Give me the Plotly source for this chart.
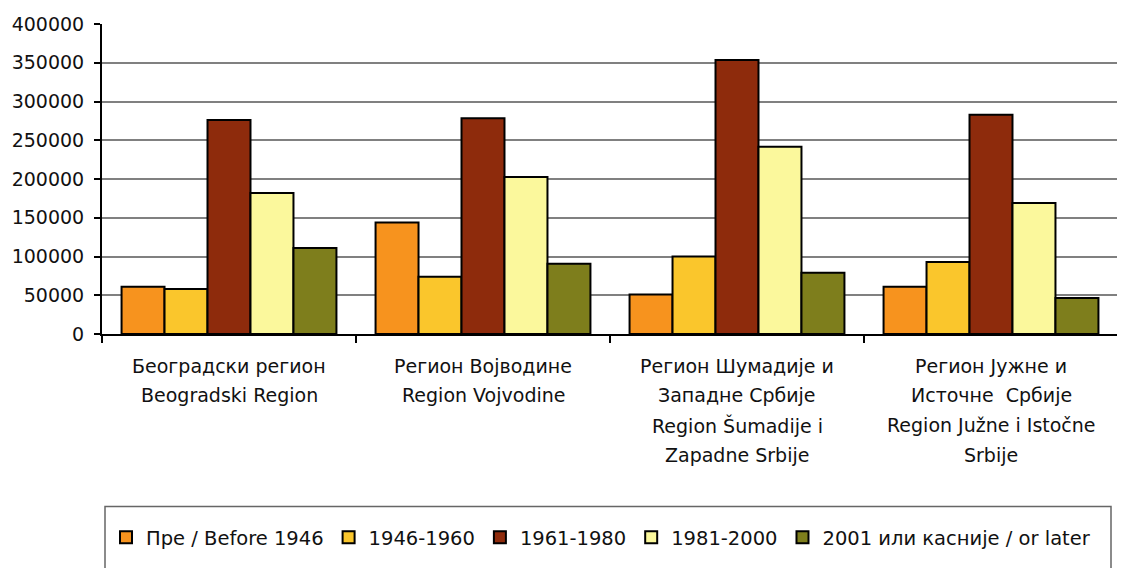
import plotly.graph_objects as go

# ---- data ----
category_lines = [
    ["Београдски регион", "Beogradski Region"],
    ["Регион Војводине", "Region Vojvodine"],
    ["Регион Шумадије и", "Западне Србије", "Region Šumadije i", "Zapadne Srbije"],
    ["Регион Јужне и", "Источне\u00a0 Србије", "Region Južne i Istočne", "Srbije"],
]
categories = ["<br>".join(c) for c in category_lines]

series_names = ["Пре / Before 1946", "1946-1960", "1961-1980", "1981-2000",
                "2001 или касније / or later"]
before_1946 = [61000, 144000, 51000, 61000]
y1946_1960 = [58000, 74000, 100000, 93000]
y1961_1980 = [276000, 278500, 353500, 283000]
y1981_2000 = [182000, 202500, 241500, 169000]
y2001_later = [111000, 90500, 79000, 46500]
series_values = [before_1946, y1946_1960, y1961_1980, y1981_2000, y2001_later]

y_tickvals = [0, 50000, 100000, 150000, 200000, 250000, 300000, 350000, 400000]
y_ticktext = [str(v) for v in y_tickvals]

colors = ["#F7931E", "#FAC62C", "#8E2B0C", "#FBF89C", "#7E7E1C"]

FONT = "DejaVu Sans"
TXT = "#111111"

# page body has an 8px margin: compensate so the plot sits where the reference has it
OFF = 8
PLOT_L, PLOT_R, PLOT_T, PLOT_B = 102, 1118, 24, 334.3
W, H = 1125 - OFF, 568 - OFF
PH = PLOT_B - PLOT_T
PW = PLOT_R - PLOT_L

def py(screen_y):
    return (PLOT_B - screen_y) / PH

def px(screen_x):
    return (screen_x - PLOT_L) / PW

fig = go.Figure()
for name, vals, col in zip(series_names, series_values, colors):
    fig.add_trace(go.Bar(
        x=categories, y=vals, name=name,
        marker=dict(color=col, line=dict(color="#000000", width=2)),
    ))

# category labels (one annotation per line to match the wide line spacing)
annotations = []
for cat, lines in zip(categories, category_lines):
    for i, line in enumerate(lines):
        annotations.append(dict(
            x=cat, xref="x", y=py(366 + 29.7 * i), yref="paper",
            text=line, showarrow=False, xanchor="center", yanchor="middle",
            font=dict(family=FONT, size=19, color=TXT),
        ))

fig.update_layout(
    width=W, height=H,
    margin=dict(l=PLOT_L - OFF, r=W - (PLOT_R - OFF), t=PLOT_T - OFF,
                b=H - (PLOT_B - OFF), autoexpand=False),
    paper_bgcolor="white", plot_bgcolor="white",
    barmode="group", bargap=0.154, bargroupgap=0,
    font=dict(family=FONT, size=18, color=TXT),
    showlegend=True,
    legend=dict(
        orientation="h", x=px(106), xanchor="left",
        y=py(538), yanchor="middle",
        font=dict(family=FONT, size=19.5, color=TXT),
        bgcolor="rgba(0,0,0,0)", borderwidth=0, traceorder="normal",
    ),
    annotations=annotations,
    shapes=[dict(
        type="rect", xref="paper", yref="paper",
        x0=px(105), x1=px(1111), y0=py(507), y1=py(590),
        line=dict(color="#666666", width=1.5), fillcolor="rgba(0,0,0,0)",
        layer="below",
    )],
)

fig.update_xaxes(
    showticklabels=False, tickson="boundaries", ticks="outside",
    ticklen=7, tickwidth=2, tickcolor="#000000",
    showline=True, linecolor="#000000", linewidth=2,
    showgrid=False, zeroline=False,
)
fig.update_yaxes(
    range=[0, 400000], tickvals=y_tickvals, ticktext=y_ticktext,
    ticks="outside", ticklen=6, tickwidth=2, tickcolor="#000000",
    ticklabelstandoff=6,
    tickfont=dict(family=FONT, size=19, color=TXT),
    showline=True, linecolor="#000000", linewidth=2,
    showgrid=True, gridcolor="#808080", gridwidth=1.5, zeroline=False,
)

fig.write_html("out.html")
